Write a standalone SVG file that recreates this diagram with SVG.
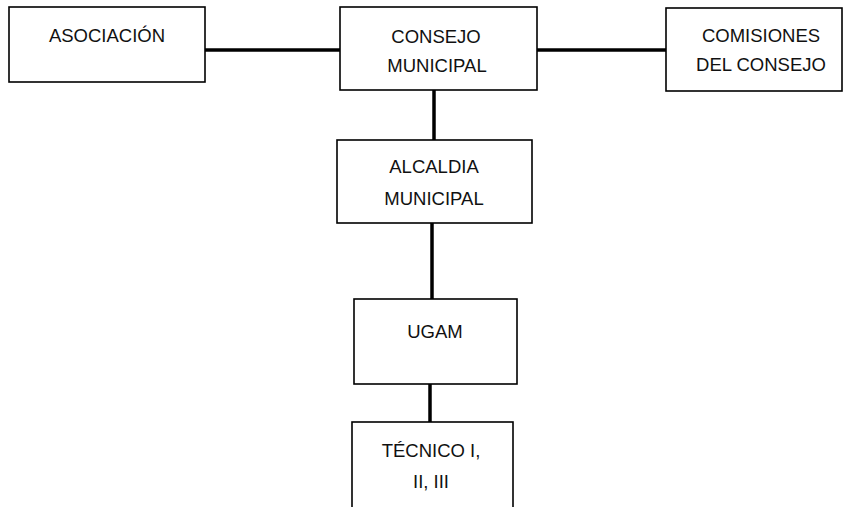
<svg xmlns="http://www.w3.org/2000/svg" width="849" height="507" viewBox="0 0 849 507">
<style>
.box{fill:#fff;stroke:#000;stroke-width:1.6}
.conn{stroke:#000;stroke-width:3.5;fill:none}
text{font-family:"Liberation Sans",Arial,sans-serif;font-size:18.5px;fill:#111;text-anchor:middle}
</style>
<rect width="849" height="507" fill="#fff"/>
<g id="connectors">
<line class="conn" x1="205" y1="50" x2="340" y2="50"/>
<line class="conn" x1="537" y1="50" x2="666" y2="50"/>
<line class="conn" x1="434" y1="90" x2="434" y2="140"/>
<line class="conn" x1="432" y1="223" x2="432" y2="299"/>
<line class="conn" x1="430" y1="384" x2="430" y2="422"/>
</g>
<g id="asociacion">
<rect class="box" x="9" y="7" width="196" height="75"/>
<text x="107" y="42">ASOCIACIÓN</text>
</g>
<g id="consejo">
<rect class="box" x="340" y="7" width="197" height="83"/>
<text x="436" y="43">CONSEJO</text>
<text x="437" y="72">MUNICIPAL</text>
</g>
<g id="comisiones">
<rect class="box" x="666" y="8" width="176" height="83"/>
<text x="761" y="42">COMISIONES</text>
<text x="761" y="71">DEL CONSEJO</text>
</g>
<g id="alcaldia">
<rect class="box" x="337" y="140" width="195" height="83"/>
<text x="434" y="173">ALCALDIA</text>
<text x="434" y="205">MUNICIPAL</text>
</g>
<g id="ugam">
<rect class="box" x="354" y="299" width="163" height="85"/>
<text x="435" y="338">UGAM</text>
</g>
<g id="tecnico">
<rect class="box" x="352" y="422" width="161" height="100"/>
<text x="431" y="457">TÉCNICO I,</text>
<text x="431" y="488">II, III</text>
</g>
</svg>
